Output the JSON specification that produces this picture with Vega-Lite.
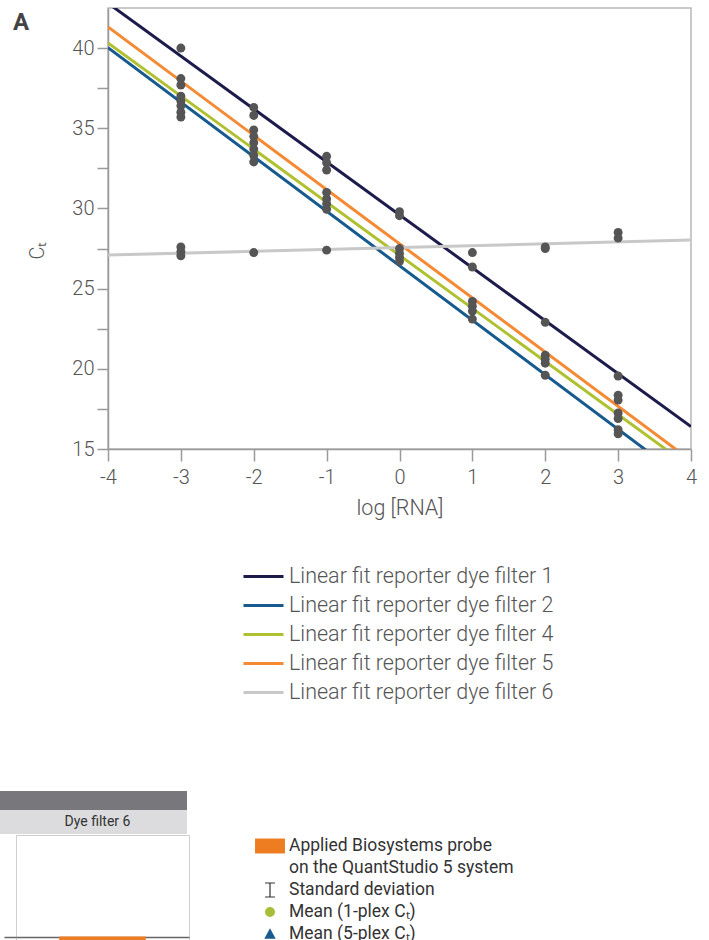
{
  "$schema": "https://vega.github.io/schema/vega-lite/v6.json",
  "background": "white",
  "padding": {"left": 0, "top": 7, "right": 0, "bottom": 0},
  "config": {"font": "Roboto", "view": {"stroke": null}},
  "datasets": {
    "fits": [
      {"fit": "Linear fit reporter dye filter 1", "log_rna": -4, "ct": 42.8},
      {"fit": "Linear fit reporter dye filter 1", "log_rna": 4, "ct": 16.4},
      {"fit": "Linear fit reporter dye filter 2", "log_rna": -4, "ct": 40.03},
      {"fit": "Linear fit reporter dye filter 2", "log_rna": 4, "ct": 12.83},
      {"fit": "Linear fit reporter dye filter 4", "log_rna": -4, "ct": 40.32},
      {"fit": "Linear fit reporter dye filter 4", "log_rna": 4, "ct": 13.84},
      {"fit": "Linear fit reporter dye filter 5", "log_rna": -4, "ct": 41.32},
      {"fit": "Linear fit reporter dye filter 5", "log_rna": 4, "ct": 14.28},
      {"fit": "Linear fit reporter dye filter 6", "log_rna": -4, "ct": 27.09},
      {"fit": "Linear fit reporter dye filter 6", "log_rna": 4, "ct": 28.03}
    ],
    "points": [
      {"log_rna": -3, "ct": 40.0}, {"log_rna": -3, "ct": 38.1}, {"log_rna": -3, "ct": 37.7}, {"log_rna": -3, "ct": 37.0},
      {"log_rna": -3, "ct": 36.7}, {"log_rna": -3, "ct": 36.4}, {"log_rna": -3, "ct": 36.0}, {"log_rna": -3, "ct": 35.7},
      {"log_rna": -3, "ct": 27.6}, {"log_rna": -3, "ct": 27.3}, {"log_rna": -3, "ct": 27.05},
      {"log_rna": -2, "ct": 36.3}, {"log_rna": -2, "ct": 35.8}, {"log_rna": -2, "ct": 34.9}, {"log_rna": -2, "ct": 34.5},
      {"log_rna": -2, "ct": 34.1}, {"log_rna": -2, "ct": 33.7}, {"log_rna": -2, "ct": 33.3}, {"log_rna": -2, "ct": 32.9},
      {"log_rna": -2, "ct": 27.25},
      {"log_rna": -1, "ct": 33.25}, {"log_rna": -1, "ct": 32.85}, {"log_rna": -1, "ct": 32.4}, {"log_rna": -1, "ct": 31.0},
      {"log_rna": -1, "ct": 30.6}, {"log_rna": -1, "ct": 30.3}, {"log_rna": -1, "ct": 29.95}, {"log_rna": -1, "ct": 27.4},
      {"log_rna": 0, "ct": 29.8}, {"log_rna": 0, "ct": 29.55}, {"log_rna": 0, "ct": 27.5}, {"log_rna": 0, "ct": 27.2},
      {"log_rna": 0, "ct": 26.95}, {"log_rna": 0, "ct": 26.7},
      {"log_rna": 1, "ct": 27.25}, {"log_rna": 1, "ct": 26.35}, {"log_rna": 1, "ct": 24.2}, {"log_rna": 1, "ct": 23.9},
      {"log_rna": 1, "ct": 23.6}, {"log_rna": 1, "ct": 23.1},
      {"log_rna": 2, "ct": 27.6}, {"log_rna": 2, "ct": 27.5}, {"log_rna": 2, "ct": 22.9}, {"log_rna": 2, "ct": 20.85},
      {"log_rna": 2, "ct": 20.6}, {"log_rna": 2, "ct": 20.35}, {"log_rna": 2, "ct": 19.6},
      {"log_rna": 3, "ct": 28.5}, {"log_rna": 3, "ct": 28.15}, {"log_rna": 3, "ct": 19.55}, {"log_rna": 3, "ct": 18.35},
      {"log_rna": 3, "ct": 18.05}, {"log_rna": 3, "ct": 17.25}, {"log_rna": 3, "ct": 16.9}, {"log_rna": 3, "ct": 16.2},
      {"log_rna": 3, "ct": 15.95}
    ],
    "panel": [{"panel": "Dye filter 6"}],
    "bars": [{"panel": "Dye filter 6", "series": "Applied Biosystems probe", "value": -1.2}],
    "keyItems": []
  },
  "columns": 1,
  "spacing": 87,
  "resolve": {"scale": {"color": "independent", "shape": "independent"}, "legend": {"color": "independent", "shape": "independent"}},
  "concat": [
    {
      "spacing": 1,
      "resolve": {"scale": {"color": "independent"}, "legend": {"color": "independent"}},
      "hconcat": [
        {"width": 1, "height": 1, "data": {"name": "keyItems"}, "mark": {"type": "point"}},
        {
          "width": 583,
          "height": 441,
          "view": {"stroke": "#b8b8b8", "strokeWidth": 1.5},
          "title": {"text": "A", "anchor": "start", "frame": "group", "orient": "top", "offset": 0, "baseline": "top", "dx": -95, "dy": 27, "fontSize": 24, "fontWeight": "bold", "font": "Roboto", "color": "#444444"},
          "layer": [
            {
              "data": {"name": "fits"},
              "mark": {"type": "line", "clip": true, "strokeWidth": 3},
              "encoding": {
                "x": {"field": "log_rna", "type": "quantitative",
                  "scale": {"domain": [-4, 4], "nice": false, "zero": false},
                  "axis": {"values": [-4, -3, -2, -1, 0, 1, 2, 3, 4], "title": "log [RNA]", "grid": false,
                    "labelExpr": "datum.value < 0 ? '-' + abs(datum.value) : '' + datum.value",
                    "labelFlush": false, "labelFont": "Roboto", "labelFontSize": 20, "labelFontWeight": 300, "labelColor": "#555555", "labelPadding": 6,
                    "tickSize": 12, "tickColor": "#9a9a9a", "tickWidth": 1.5, "domainColor": "#9a9a9a", "domainWidth": 1.5,
                    "titleFont": "Roboto", "titleFontSize": 21.5, "titleFontWeight": 300, "titleColor": "#555555", "titlePadding": 10}},
                "y": {"field": "ct", "type": "quantitative",
                  "scale": {"domain": [15, 42.5], "nice": false, "zero": false},
                  "axis": {"values": [15, 17.5, 20, 22.5, 25, 27.5, 30, 32.5, 35, 37.5, 40], "title": "Cₜ", "grid": false,
                    "labelExpr": "datum.value % 5 === 0 ? datum.label : ''",
                    "labelFlush": false, "labelFont": "Roboto", "labelFontSize": 20, "labelFontWeight": 300, "labelColor": "#555555", "labelPadding": 3,
                    "tickSize": 11,
                    "tickColor": "#9a9a9a", "tickWidth": 1.5, "domainColor": "#9a9a9a", "domainWidth": 1.5,
                    "titleFont": "Roboto", "titleFontSize": 20, "titleFontWeight": 300, "titleColor": "#555555", "titlePadding": 24, "titleY": 242}},
                "color": {"field": "fit", "type": "nominal",
                  "scale": {"domain": ["Linear fit reporter dye filter 1", "Linear fit reporter dye filter 2", "Linear fit reporter dye filter 4", "Linear fit reporter dye filter 5", "Linear fit reporter dye filter 6"],
                    "range": ["#1c1b4b", "#165a8e", "#afc130", "#f58a35", "#c8c8c8"]},
                  "legend": {"title": null, "orient": "none", "legendX": 140, "legendY": 553, "padding": 0,
                    "symbolType": "M-1.43,0H1.43", "symbolSize": 784, "symbolStrokeWidth": 3,
                    "labelFont": "Roboto", "labelFontSize": 21.5, "labelFontWeight": 300, "labelColor": "#555555", "labelBaseline": "middle",
                    "labelOffset": 10, "labelLimit": 400, "rowPadding": 3}}
              }
            },
            {
              "data": {"name": "points"},
              "mark": {"type": "circle", "size": 80, "color": "#555555", "opacity": 1},
              "encoding": {
                "x": {"field": "log_rna", "type": "quantitative"},
                "y": {"field": "ct", "type": "quantitative",
                  "scale": {"domain": [15, 42.5], "nice": false, "zero": false},
                  "axis": {"orient": "left", "offset": 104.5, "title": null, "labels": false, "ticks": false, "grid": false,
                    "domain": true, "domainColor": "transparent", "domainWidth": 1}}
              }
            }
          ],
          "resolve": {"scale": {"y": "independent"}, "axis": {"y": "independent"}}
        }
      ]
    },
    {
      "spacing": 0,
      "resolve": {"scale": {"color": "independent", "shape": "independent"}, "legend": {"color": "independent", "shape": "independent"}},
      "vconcat": [
        {
          "width": 187,
          "height": 19,
          "data": {"name": "panel"},
          "mark": {"type": "bar", "color": "#78787c"},
          "encoding": {
            "x": {"field": "panel", "type": "nominal", "axis": null, "scale": {"paddingInner": 0, "paddingOuter": 0}}
          }
        },
        {
          "width": 187,
          "height": 24,
          "data": {"name": "panel"},
          "layer": [
            {
              "mark": {"type": "bar", "color": "#dcdcde"},
              "encoding": {
                "x": {"field": "panel", "type": "nominal", "axis": null, "scale": {"paddingInner": 0, "paddingOuter": 0}}
              }
            },
            {
              "mark": {"type": "text", "fontSize": 14, "color": "#333333", "dx": 4, "font": "Roboto"},
              "encoding": {
                "x": {"field": "panel", "type": "nominal", "axis": null},
                "text": {"field": "panel"}
              }
            }
          ]
        },
        {
          "spacing": 1,
          "resolve": {"scale": {"color": "independent", "shape": "independent"}, "legend": {"color": "independent", "shape": "independent"}},
          "hconcat": [
            {"width": 1, "height": 1, "data": {"name": "keyItems"}, "mark": {"type": "point"}},
            {
              "width": 173,
              "height": 108,
              "view": {"stroke": "#cfcfcf", "strokeWidth": 1},
              "layer": [
                {
                  "data": {"name": "bars"},
                  "mark": {"type": "bar", "clip": true, "color": "#ee7d22"},
                  "encoding": {
                    "x": {"field": "panel", "type": "nominal", "axis": null, "scale": {"paddingInner": 0, "paddingOuter": 0.5}},
                    "y": {"field": "value", "type": "quantitative",
                      "scale": {"domain": [-0.4, 6.25], "nice": false, "zero": false},
                      "axis": {"values": [0], "labels": false, "domain": false, "title": null,
                        "ticks": true, "tickSize": 12, "tickColor": "#666666", "tickWidth": 1.5,
                        "grid": true, "gridColor": "#666666", "gridWidth": 1.5}}
                  }
                },
                {
                  "data": {"name": "keyItems"},
                  "mark": {"type": "point", "filled": true, "opacity": 1},
                  "encoding": {
                    "color": {"field": "item", "type": "nominal",
                      "scale": {"domain": ["Applied Biosystems probe", "on the QuantStudio 5 system", "Standard deviation", "Mean (1-plex Cₜ)", "Mean (5-plex Cₜ)"],
                        "range": ["#ee7d22", "transparent", "#333333", "#a9bd38", "#1a5a8f"]},
                      "legend": {"title": null, "orient": "none", "legendX": 243, "legendY": 0, "padding": 0,
                        "symbolSize": 484, "symbolStrokeWidth": 0, "symbolOpacity": 1,
                        "labelFont": "Roboto", "labelFontSize": 17.5, "labelColor": "#333333", "labelOffset": 8, "labelLimit": 400,
                        "labelBaseline": "middle", "rowPadding": 2}},
                    "shape": {"field": "item", "type": "nominal",
                      "scale": {"domain": ["Applied Biosystems probe", "on the QuantStudio 5 system", "Standard deviation", "Mean (1-plex Cₜ)", "Mean (5-plex Cₜ)"],
                        "range": ["M-1.36,-0.68H1.36V0.68H-1.36Z", "M0,0Z", "M-0.45,-0.68H0.45V-0.6H0.055V0.6H0.45V0.68H-0.45V0.6H-0.055V-0.6H-0.45Z", "M-0.45,0A0.45,0.45,0,1,0,0.45,0A0.45,0.45,0,1,0,-0.45,0Z", "M0,-0.52L0.52,0.44L-0.52,0.44Z"]},
                      "legend": {"title": null, "orient": "none", "legendX": 243, "legendY": 0, "padding": 0,
                        "symbolSize": 484, "symbolStrokeWidth": 0, "symbolOpacity": 1,
                        "labelFont": "Roboto", "labelFontSize": 17.5, "labelColor": "#333333", "labelOffset": 8, "labelLimit": 400,
                        "labelBaseline": "middle", "rowPadding": 2}}
                  }
                }
              ]
            }
          ]
        }
      ]
    }
  ]
}
